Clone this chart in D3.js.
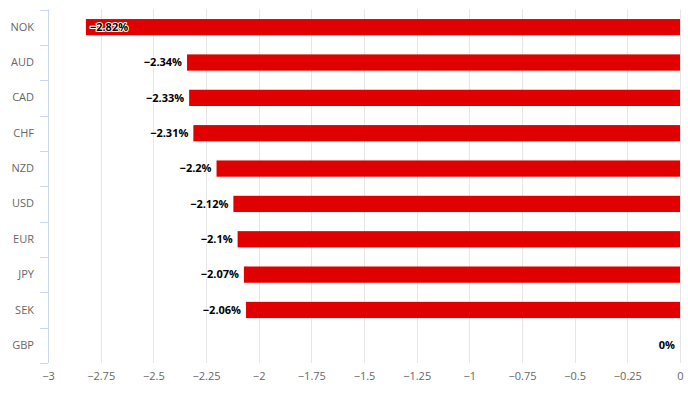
<!DOCTYPE html>
<html>
<head>
<meta charset="utf-8">
<script src="https://cdn.jsdelivr.net/npm/d3@7"></script>
<style>
  html, body { margin: 0; padding: 0; background: #fff; }
  svg { display: block; font-family: "Open Sans", "Noto Sans", sans-serif; }
</style>
</head>
<body>
<svg id="chart" width="688" height="397"></svg>
<script>
const currencies = ['NOK', 'AUD', 'CAD', 'CHF', 'NZD', 'USD', 'EUR', 'JPY', 'SEK', 'GBP'];
const changes = [-2.82, -2.34, -2.33, -2.31, -2.2, -2.12, -2.1, -2.07, -2.06, 0];
const xTicks = [-3, -2.75, -2.5, -2.25, -2, -1.75, -1.5, -1.25, -1, -0.75, -0.5, -0.25, 0];

const width = 688;
const height = 397;
const plot = { left: 48, right: 680, top: 9.5, bottom: 363 };
const fontFamily = '"Open Sans", "Noto Sans", sans-serif';

const svg = d3.select('#chart');

const x = d3.scaleLinear().domain([-3, 0]).range([plot.left, plot.right]);
const y = d3.scaleBand().domain(currencies).range([plot.top, plot.bottom]).paddingInner(0.54).paddingOuter(0.27);
const band = d3.scaleBand().domain(currencies).range([plot.top, plot.bottom]);

const fmt = (v) => String(v).replace('-', '\u2212');

// gridlines
svg.append('g')
  .selectAll('line')
  .data(xTicks)
  .join('line')
  .attr('x1', (d) => Math.round(x(d)) + 0.5)
  .attr('x2', (d) => Math.round(x(d)) + 0.5)
  .attr('y1', plot.top)
  .attr('y2', plot.bottom)
  .attr('stroke', '#e6e6e6')
  .attr('stroke-width', 1);

// x axis labels
const xAxis = d3.axisBottom(x).tickValues(xTicks).tickSize(0).tickPadding(0).tickFormat(fmt);
const xg = svg.append('g').attr('transform', `translate(0,${plot.bottom})`).call(xAxis);
xg.select('.domain').remove();
xg.selectAll('text')
  .attr('y', 13)
  .attr('dy', '0.32em')
  .attr('fill', '#666666')
  .style('font-size', '11px')
  .style('font-family', fontFamily);

// y axis (categories)
const yAxis = d3.axisLeft(band).tickSize(0).tickPadding(14);
const yg = svg.append('g').attr('transform', `translate(${plot.left},0)`).call(yAxis);
yg.select('.domain').remove();
yg.selectAll('text')
  .attr('fill', '#666666')
  .style('font-size', '11px')
  .style('font-family', fontFamily);

const boundaries = currencies.map((c) => band(c)).concat([plot.bottom]);
svg.append('g')
  .selectAll('line')
  .data(boundaries)
  .join('line')
  .attr('x1', plot.left - 8)
  .attr('x2', plot.left)
  .attr('y1', (d) => Math.round(d) + 0.5)
  .attr('y2', (d) => Math.round(d) + 0.5)
  .attr('stroke', '#ccd6eb');
svg.append('line')
  .attr('x1', plot.left + 0.5)
  .attr('x2', plot.left + 0.5)
  .attr('y1', plot.top)
  .attr('y2', plot.bottom)
  .attr('stroke', '#ccd6eb');

// bars
const rows = currencies.map((c, i) => ({ name: c, value: changes[i] }));
svg.append('g')
  .selectAll('rect')
  .data(rows)
  .join('rect')
  .attr('x', (d) => x(d.value))
  .attr('width', (d) => x(0) - x(d.value))
  .attr('y', (d) => y(d.name))
  .attr('height', y.bandwidth())
  .attr('fill', '#e10000');

// data labels
const labels = svg.append('g')
  .selectAll('text')
  .data(rows)
  .join('text')
  .text((d) => fmt(d.value) + '%')
  .attr('y', (d) => band(d.name) + band.bandwidth() / 2)
  .attr('dy', '0.35em')
  .attr('fill', '#000')
  .attr('stroke', '#fff')
  .attr('stroke-width', 2)
  .attr('stroke-linejoin', 'round')
  .attr('paint-order', 'stroke')
  .style('font-size', '11px')
  .style('font-weight', 'bold')
  .style('font-family', fontFamily);

labels.each(function (d) {
  const w = this.getComputedTextLength();
  const start = x(d.value);
  const t = d3.select(this);
  if (start - plot.left < w + 8) {
    t.attr('x', start + 4).attr('text-anchor', 'start');
  } else {
    t.attr('x', start - 5).attr('text-anchor', 'end');
  }
});
</script>
</body>
</html>
